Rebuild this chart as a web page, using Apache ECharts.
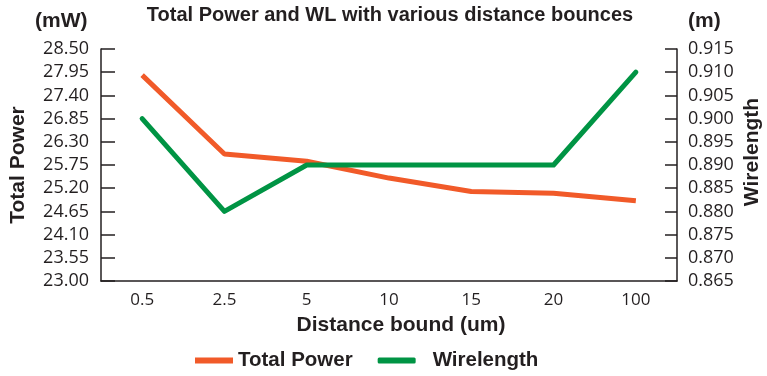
<!DOCTYPE html>
<html>
<head>
<meta charset="utf-8">
<script src="https://cdn.jsdelivr.net/npm/echarts@6/dist/echarts.min.js"></script>
<style>
  html, body { margin: 0; padding: 0; background: #fff; }
  #chart { width: 767px; height: 376px; }
</style>
</head>
<body>
<div id="chart"></div>
<script>
const categories = ['0.5', '2.5', '5', '10', '15', '20', '100'];
const totalPower = [27.88, 26.01, 25.84, 25.44, 25.12, 25.08, 24.90];
const wirelength = [0.900, 0.880, 0.890, 0.890, 0.890, 0.890, 0.910];

const ink = '#231f20';
const boldFont = 'Liberation Sans';
const tickFont = 'Open Sans';

const chart = echarts.init(document.getElementById('chart'), null, { renderer: 'canvas' });

const opts = {
  animation: false,
  backgroundColor: '#fff',
  title: {
    text: 'Total Power and WL with various distance bounces',
    left: 385,
    textAlign: 'center',
    top: 0,
    textStyle: { fontFamily: boldFont, fontWeight: 'bold', fontSize: 20, color: ink },
  },
  graphic: [
    {
      type: 'text', left: 35, top: 11,
      style: { text: '(mW)', fontFamily: boldFont, fontWeight: 'bold', fontSize: 21, fill: ink },
    },
    {
      type: 'text', left: 688, top: 11,
      style: { text: '(m)', fontFamily: boldFont, fontWeight: 'bold', fontSize: 21, fill: ink },
    },
    {
      type: 'text', x: 752, y: 152, rotation: Math.PI / 2,
      style: {
        text: 'Wirelength', fontFamily: boldFont, fontWeight: 'bold', fontSize: 21, fill: ink,
        align: 'center', verticalAlign: 'middle',
      },
    },
  ],
  legend: {
    bottom: 0,
    left: 190,
    itemWidth: 38,
    itemHeight: 6,
    itemGap: 25,
    textStyle: { fontFamily: boldFont, fontWeight: 'bold', fontSize: 20.5, color: ink },
    data: [
      { name: 'Total Power', icon: 'rect' },
      { name: 'Wirelength', icon: 'roundRect', textStyle: { padding: [0, 0, 0, 12] } },
    ],
  },
  grid: { left: 96, right: 90, top: 49, bottom: 95 },
  xAxis: {
    type: 'category',
    data: categories,
    boundaryGap: true,
    name: 'Distance bound (um)',
    nameLocation: 'middle',
    nameGap: 34,
    nameTextStyle: {
      fontFamily: boldFont, fontWeight: 'bold', fontSize: 21, color: ink,
      padding: [0, 0, 0, 24],
    },
    axisLine: { lineStyle: { color: ink, width: 1.5 } },
    axisTick: { alignWithLabel: true, inside: true, length: 5, lineStyle: { color: ink, width: 1.5 } },
    axisLabel: { fontFamily: tickFont, fontSize: 17, color: ink, margin: 11 },
    splitLine: { show: false },
  },
  yAxis: [
    {
      type: 'value',
      position: 'left',
      min: 23,
      max: 28.5,
      interval: 0.55,
      name: 'Total Power',
      nameLocation: 'middle',
      nameRotate: 90,
      nameGap: 72,
      nameTextStyle: { fontFamily: boldFont, fontWeight: 'bold', fontSize: 21, color: ink },
      axisLine: { show: true, lineStyle: { color: ink, width: 1.5 } },
      axisTick: { show: true, inside: true, length: 14, lineStyle: { color: ink, width: 1.5 } },
      axisLabel: {
        fontFamily: tickFont, fontSize: 18, color: ink, margin: 12,
        formatter: (v) => v.toFixed(2),
      },
      splitLine: { show: false },
    },
    {
      type: 'value',
      position: 'right',
      min: 0.865,
      max: 0.915,
      interval: 0.005,
      axisLine: { show: true, lineStyle: { color: ink, width: 1.5 } },
      axisTick: { show: true, inside: true, length: 12, lineStyle: { color: ink, width: 1.5 } },
      axisLabel: {
        fontFamily: tickFont, fontSize: 18, color: ink, margin: 11,
        formatter: (v) => v.toFixed(3),
      },
      splitLine: { show: false },
    },
  ],
  series: [
    {
      name: 'Total Power',
      type: 'line',
      yAxisIndex: 0,
      data: totalPower,
      symbol: 'none',
      itemStyle: { color: '#f15a29' },
      lineStyle: { color: '#f15a29', width: 5, cap: 'butt' },
    },
    {
      name: 'Wirelength',
      type: 'line',
      yAxisIndex: 1,
      data: wirelength,
      symbol: 'none',
      itemStyle: { color: '#009444' },
      lineStyle: { color: '#009444', width: 5, cap: 'round', join: 'round' },
    },
  ],
};

chart.setOption(opts);
</script>
</body>
</html>
